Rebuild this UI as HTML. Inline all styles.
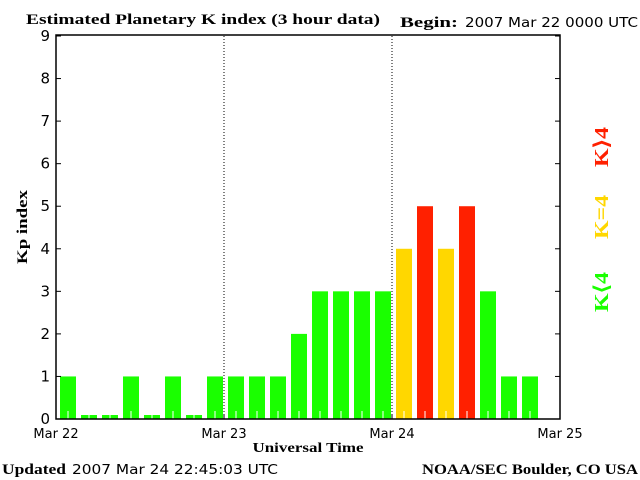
<!DOCTYPE html>
<html><head><meta charset="utf-8"><style>
body{margin:0;background:#fff}
svg{display:block}
.t{font-family:"Liberation Serif",serif;font-weight:bold;fill:#000}
.m{font-family:"DejaVu Sans","Liberation Sans",sans-serif;fill:#000}
</style></head><body>
<svg id="chart" width="640" height="480" viewBox="0 0 640 480">
<text class="t" x="26" y="24" font-size="15" textLength="354" lengthAdjust="spacingAndGlyphs">Estimated Planetary K index (3 hour data)</text>
<text class="t" x="400" y="27" font-size="15" textLength="58" lengthAdjust="spacingAndGlyphs">Begin:</text>
<text class="m" x="465" y="27" font-size="13" textLength="173" lengthAdjust="spacingAndGlyphs">2007 Mar 22 0000 UTC</text>
<g id="bars"></g>
<g id="axes"></g>
<text class="t" x="27" y="227" font-size="15" textLength="74" lengthAdjust="spacingAndGlyphs" transform="rotate(-90 27 227)" text-anchor="middle">Kp index</text>
<text class="t" x="308" y="452" font-size="14" textLength="111" lengthAdjust="spacingAndGlyphs" text-anchor="middle">Universal Time</text>
<text class="t" x="2" y="474" font-size="15" textLength="64" lengthAdjust="spacingAndGlyphs">Updated</text>
<text class="m" x="72" y="474" font-size="13" textLength="206" lengthAdjust="spacingAndGlyphs">2007 Mar 24 22:45:03 UTC</text>
<text class="t" x="422" y="474" font-size="15" textLength="216" lengthAdjust="spacingAndGlyphs">NOAA/SEC Boulder, CO USA</text>
<text class="t" x="608" y="147" font-size="20" textLength="40" lengthAdjust="spacingAndGlyphs" style="fill:#ff2000" transform="rotate(-90 608 147)" text-anchor="middle">K⟩4</text>
<text class="t" x="608" y="217" font-size="20" textLength="44" lengthAdjust="spacingAndGlyphs" style="fill:#ffd700" transform="rotate(-90 608 217)" text-anchor="middle">K=4</text>
<text class="t" x="608" y="292" font-size="20" textLength="40" lengthAdjust="spacingAndGlyphs" style="fill:#1aff00" transform="rotate(-90 608 292)" text-anchor="middle">K⟨4</text>
</svg>
<script>
const kpValues=[1,0,0,1,0,1,0,1,1,1,1,2,3,3,3,3,4,5,4,5,3,1,1];
const yTicks=[0,1,2,3,4,5,6,7,8,9];
const dayLabels=["Mar 22","Mar 23","Mar 24","Mar 25"];
const NS="http://www.w3.org/2000/svg";
const x0=56,x1=560,y0=419,y9=36;
const xs=i=>x0+(x1-x0)*i/24;
const ys=v=>y0-(y0-y9)*v/9;
function mk(t,a,p){const e=document.createElementNS(NS,t);for(const k in a)e.setAttribute(k,a[k]);p.appendChild(e);return e;}
const bars=document.getElementById('bars'),axes=document.getElementById('axes');
kpValues.forEach((v,i)=>{
 const col=v>4?'#ff2000':v==4?'#ffd700':'#1aff00';
 const top=v==0?y0-4:ys(v);
 const r=mk('rect',{x:xs(i)+4,y:top,width:16,height:y0-top,fill:col},bars);
 
 
 const l=mk('line',{x1:xs(i)+12,x2:xs(i)+12,y1:y0,y2:Math.max(top,y0-8),stroke:'#fff','stroke-width':1},bars);
 
 
});
[1,2].forEach(d=>{const l=mk('line',{x1:xs(d*8),x2:xs(d*8),y1:y9,y2:y0,stroke:'#000','stroke-dasharray':'1,2'},axes);
 
 });
const fr=mk('rect',{x:x0,y:y9-1,width:x1-x0,height:y0-y9+1,fill:'none',stroke:'#000','stroke-width':1.5},axes);


yTicks.forEach(v=>{
 mk('line',{x1:x0,x2:x0+5,y1:ys(v),y2:ys(v),stroke:'#000'},axes);
 mk('line',{x1:x1-5,x2:x1,y1:ys(v),y2:ys(v),stroke:'#000'},axes);
 const t=mk('text',{x:50,y:ys(v)+5,'text-anchor':'end','font-size':15,class:'m'},axes);
 t.textContent=v;
 
 
});
dayLabels.forEach((s,d)=>{
 mk('line',{x1:xs(d*8),x2:xs(d*8),y1:y0,y2:y0-5,stroke:'#000'},axes);
 const t=mk('text',{x:xs(d*8),y:438,'text-anchor':'middle','font-size':13,class:'m'},axes);
 t.textContent=s;
 
 
});
</script>
</body></html>
